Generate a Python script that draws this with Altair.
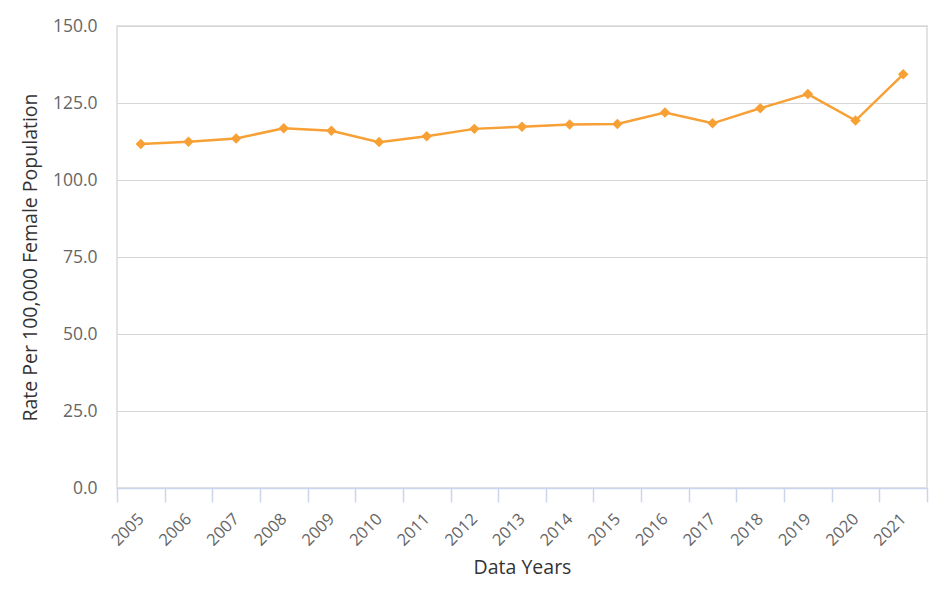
import altair as alt
import pandas as pd

years = [str(y) for y in range(2005, 2022)]
rates = [111.7, 112.4, 113.5, 116.8, 116.0, 112.3, 114.2, 116.6, 117.3,
         118.0, 118.2, 121.9, 118.4, 123.3, 127.9, 119.3, 134.3]
y_ticks = [0, 25, 50, 75, 100, 125, 150]

df = pd.DataFrame({"year": years, "rate": rates})

FONT = "Open Sans"
ORANGE = "#F7A035"

x = alt.X("year:N", title="Data Years", sort=years,
          scale=alt.Scale(paddingInner=0, paddingOuter=0),
          axis=alt.Axis(labelAngle=-45, labelAlign="right", labelBaseline="middle",
                        labelPadding=14, labelFontSize=16.5, labelColor="#666666",
                        labelFont=FONT, tickBand="extent", ticks=True, tickSize=14,
                        tickColor="#ccd6eb", tickWidth=1.5, domainColor="#ccd6eb",
                        domainWidth=1.5, grid=False, titleFont=FONT, titleFontSize=19.5,
                        titleFontWeight="normal", titleColor="#333333",
                        titlePadding=10))
y = alt.Y("rate:Q", title="Rate Per 100,000 Female Population",
          scale=alt.Scale(domain=[0, 150], nice=False),
          axis=alt.Axis(values=y_ticks, format=".1f", labelFontSize=17.5,
                        labelColor="#666666", labelFont=FONT, labelPadding=20,
                        ticks=False, domain=False, grid=True, gridColor="#d6d6d6",
                        gridWidth=1.2, titleFont=FONT, titleFontSize=19.5,
                        titleFontWeight="normal", titleColor="#333333",
                        titlePadding=12))

line = alt.Chart(df).mark_line(color=ORANGE, strokeWidth=2.5).encode(x=x, y=y)
pts = alt.Chart(df).mark_point(shape="diamond", filled=True, size=110,
                               color=ORANGE, opacity=1).encode(x=x, y=y)

chart = (line + pts).properties(
    width=810, height=462,
    autosize=alt.AutoSizeParams(type="none"),
    padding={"left": 109, "top": 18, "right": 16, "bottom": 98},
).configure_view(stroke="#e3e3e3", strokeWidth=2)

chart.save("out.html", embed_options={"renderer": "svg", "actions": False})
